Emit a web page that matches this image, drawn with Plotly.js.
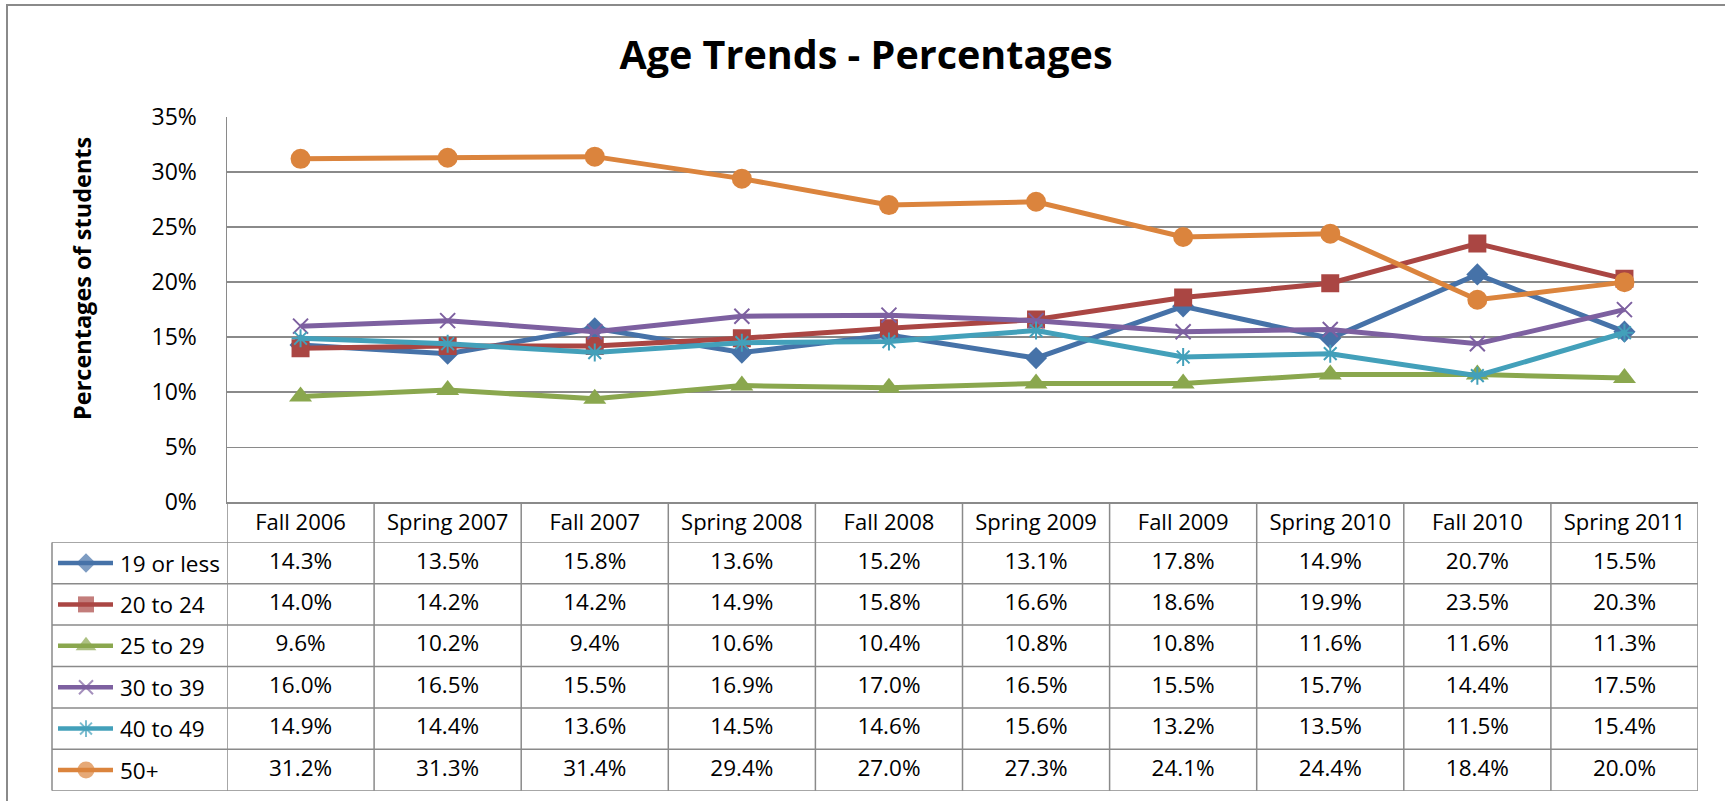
<!DOCTYPE html>
<html>
<head>
<meta charset="utf-8">
<script src="https://cdn.plot.ly/plotly-3.0.1.min.js"></script>
<style>html,body{margin:0;padding:0;background:#fff;}#chart{width:1725px;height:801px;}</style>
</head>
<body>
<div id="chart"></div>
<script>
// ---- data ----
const categories = ['Fall 2006','Spring 2007','Fall 2007','Spring 2008','Fall 2008','Spring 2009','Fall 2009','Spring 2010','Fall 2010','Spring 2011'];
const seriesNames = ['19 or less','20 to 24','25 to 29','30 to 39','40 to 49','50+'];
const age19orLess = [14.3,13.5,15.8,13.6,15.2,13.1,17.8,14.9,20.7,15.5];
const age20to24   = [14.0,14.2,14.2,14.9,15.8,16.6,18.6,19.9,23.5,20.3];
const age25to29   = [9.6,10.2,9.4,10.6,10.4,10.8,10.8,11.6,11.6,11.3];
const age30to39   = [16.0,16.5,15.5,16.9,17.0,16.5,15.5,15.7,14.4,17.5];
const age40to49   = [14.9,14.4,13.6,14.5,14.6,15.6,13.2,13.5,11.5,15.4];
const age50plus   = [31.2,31.3,31.4,29.4,27.0,27.3,24.1,24.4,18.4,20.0];
const yTickVals   = [0,5,10,15,20,25,30,35];
const chartTitle  = 'Age Trends - Percentages';
const yTitle      = 'Percentages of students';

const seriesValues = [age19orLess, age20to24, age25to29, age30to39, age40to49, age50plus];

// ---- styles ----
const styles = [
  {color:'#4672A8', symbol:'diamond', size:17, lsize:15, open:false},
  {color:'#AA4643', symbol:'square', size:18, lsize:16, open:false},
  {color:'#8AA74E', symbol:'triangle-up', size:20, lsize:18, open:false},
  {color:'#7D60A0', symbol:'x-thin-open', size:15, lsize:14, open:true},
  {color:'#43A0BA', symbol:'asterisk-open', size:15, lsize:14, open:true},
  {color:'#DB843D', symbol:'circle', size:20, lsize:17, open:false}
];

const FONT = 'Open Sans, Lato, DejaVu Sans, sans-serif';
const GRID = '#8a8a8a';

// geometry (pixels)
const W = 1725, H = 801;
const mL = 52, mR = 27, mT = 117, mB = 10;
const pw = W - mL - mR, ph = H - mT - mB;
const plotBottom = 502.3, headerBottom = 542.3, tableBottom = 790.7, colLeft = 227;
const yDomLo = (H - mB - plotBottom) / ph;
const tableTop = (H - mB - headerBottom) / ph;
const tableBot = (H - mB - tableBottom) / ph;
const xDomLo = (colLeft - mL) / pw;

const traces = [];
seriesValues.forEach((vals, i) => {
  const st = styles[i];
  traces.push({
    type:'scatter', mode:'lines+markers', x:categories, y:vals, name:seriesNames[i],
    xaxis:'x', yaxis:'y', showlegend:false, hoverinfo:'skip',
    line:{color:st.color, width:5},
    marker:{symbol:st.symbol, size:st.size, color:st.color,
            line:{color:st.color, width: st.open ? 2 : 0}}
  });
});

// table values
seriesValues.forEach((vals, i) => {
  traces.push({
    type:'scatter', mode:'text', x:categories, y:categories.map(() => i + 0.5),
    text: vals.map(v => v.toFixed(1) + '%'),
    xaxis:'x', yaxis:'y2', showlegend:false, hoverinfo:'skip', cliponaxis:false,
    textfont:{family:FONT, size:22.5, color:'#000'}
  });
});

// legend keys in table
seriesNames.forEach((nm, i) => {
  const st = styles[i];
  traces.push({
    type:'scatter', mode:'lines+markers', x:[6,34,61], y:[i+0.5,i+0.5,i+0.5],
    xaxis:'x3', yaxis:'y2', showlegend:false, hoverinfo:'skip', cliponaxis:false,
    line:{color:st.color, width:4.5},
    marker:{symbol:st.symbol, size:[0,st.lsize,0], color:st.color,
            line:{color:st.color, width: st.open ? 2 : 0}}
  });
});

const shapes = [];
// outer border
shapes.push({type:'rect', xref:'paper', yref:'paper',
  x0:(7 - mL)/pw, x1:(W + 20 - mL)/pw, y0:(H - mB - (H + 20))/ph, y1:(H - mB - 5)/ph,
  line:{color:'#8a8a8a', width:2}, fillcolor:'rgba(0,0,0,0)', layer:'below'});
// row lines
for (let j = 0; j <= 6; j++) {
  shapes.push({type:'line', xref:'paper', yref:'y2', x0:0, x1:1, y0:j, y1:j,
    line:{color:GRID, width:1.5}});
}
// column lines
for (let k = 0; k <= categories.length; k++) {
  shapes.push({type:'line', xref:'x', yref:'paper', x0:k - 0.5, x1:k - 0.5, y0:tableBot, y1:yDomLo,
    line:{color:GRID, width:1.5}});
}
// legend column left line
shapes.push({type:'line', xref:'paper', yref:'y2', x0:0, x1:0, y0:0, y1:6,
  line:{color:GRID, width:1.5}});

const annotations = [];
seriesNames.forEach((nm, i) => {
  annotations.push({xref:'x3', yref:'y2', x:66, y:i + 0.5, text:nm, showarrow:false,
    xanchor:'left', yanchor:'middle', font:{family:FONT, size:22.5, color:'#000'}});
});
annotations.push({xref:'paper', yref:'paper', x:(82 - mL)/pw, y:(H - mB - 279)/ph,
  text:'<b>' + yTitle + '</b>', textangle:-90, showarrow:false,
  xanchor:'center', yanchor:'middle', font:{family:FONT, size:23.5, color:'#000'}});

const layout = {
  width:W, height:H,
  margin:{l:mL, r:mR, t:mT, b:mB, pad:0},
  paper_bgcolor:'#fff', plot_bgcolor:'rgba(0,0,0,0)',
  font:{family:FONT, color:'#000'},
  title:{text:'<b>' + chartTitle + '</b>', x:866/W, xanchor:'center', xref:'container',
         y:1 - 55/H, yanchor:'middle', yref:'container',
         font:{family:FONT, size:39.5, color:'#000'}},
  showlegend:false,
  xaxis:{domain:[xDomLo, 1], type:'category', range:[-0.5, categories.length - 0.5],
         showgrid:false, zeroline:false, showline:true, linecolor:GRID, linewidth:1.5,
         ticks:'', tickfont:{family:FONT, size:22, color:'#000'}, ticklabelstandoff:0,
         anchor:'y', fixedrange:true},
  yaxis:{domain:[yDomLo, 1], range:[0, 35], tickvals:yTickVals, ticktext:yTickVals.map(v => v + '%'),
         showgrid:true, gridcolor:GRID, gridwidth:1.5, zeroline:false,
         showline:true, linecolor:GRID, linewidth:1.5, ticks:'', ticklabelstandoff:24,
         tickfont:{family:FONT, size:23, color:'#000'}, anchor:'x', fixedrange:true},
  yaxis2:{domain:[tableBot, tableTop], range:[6, 0], visible:false, anchor:'x', fixedrange:true},
  xaxis3:{domain:[0, xDomLo], range:[0, colLeft - mL], visible:false, anchor:'y2', fixedrange:true},
  shapes:shapes,
  annotations:annotations
};

Plotly.newPlot('chart', traces, layout, {displayModeBar:false, staticPlot:true});
</script>
</body>
</html>
